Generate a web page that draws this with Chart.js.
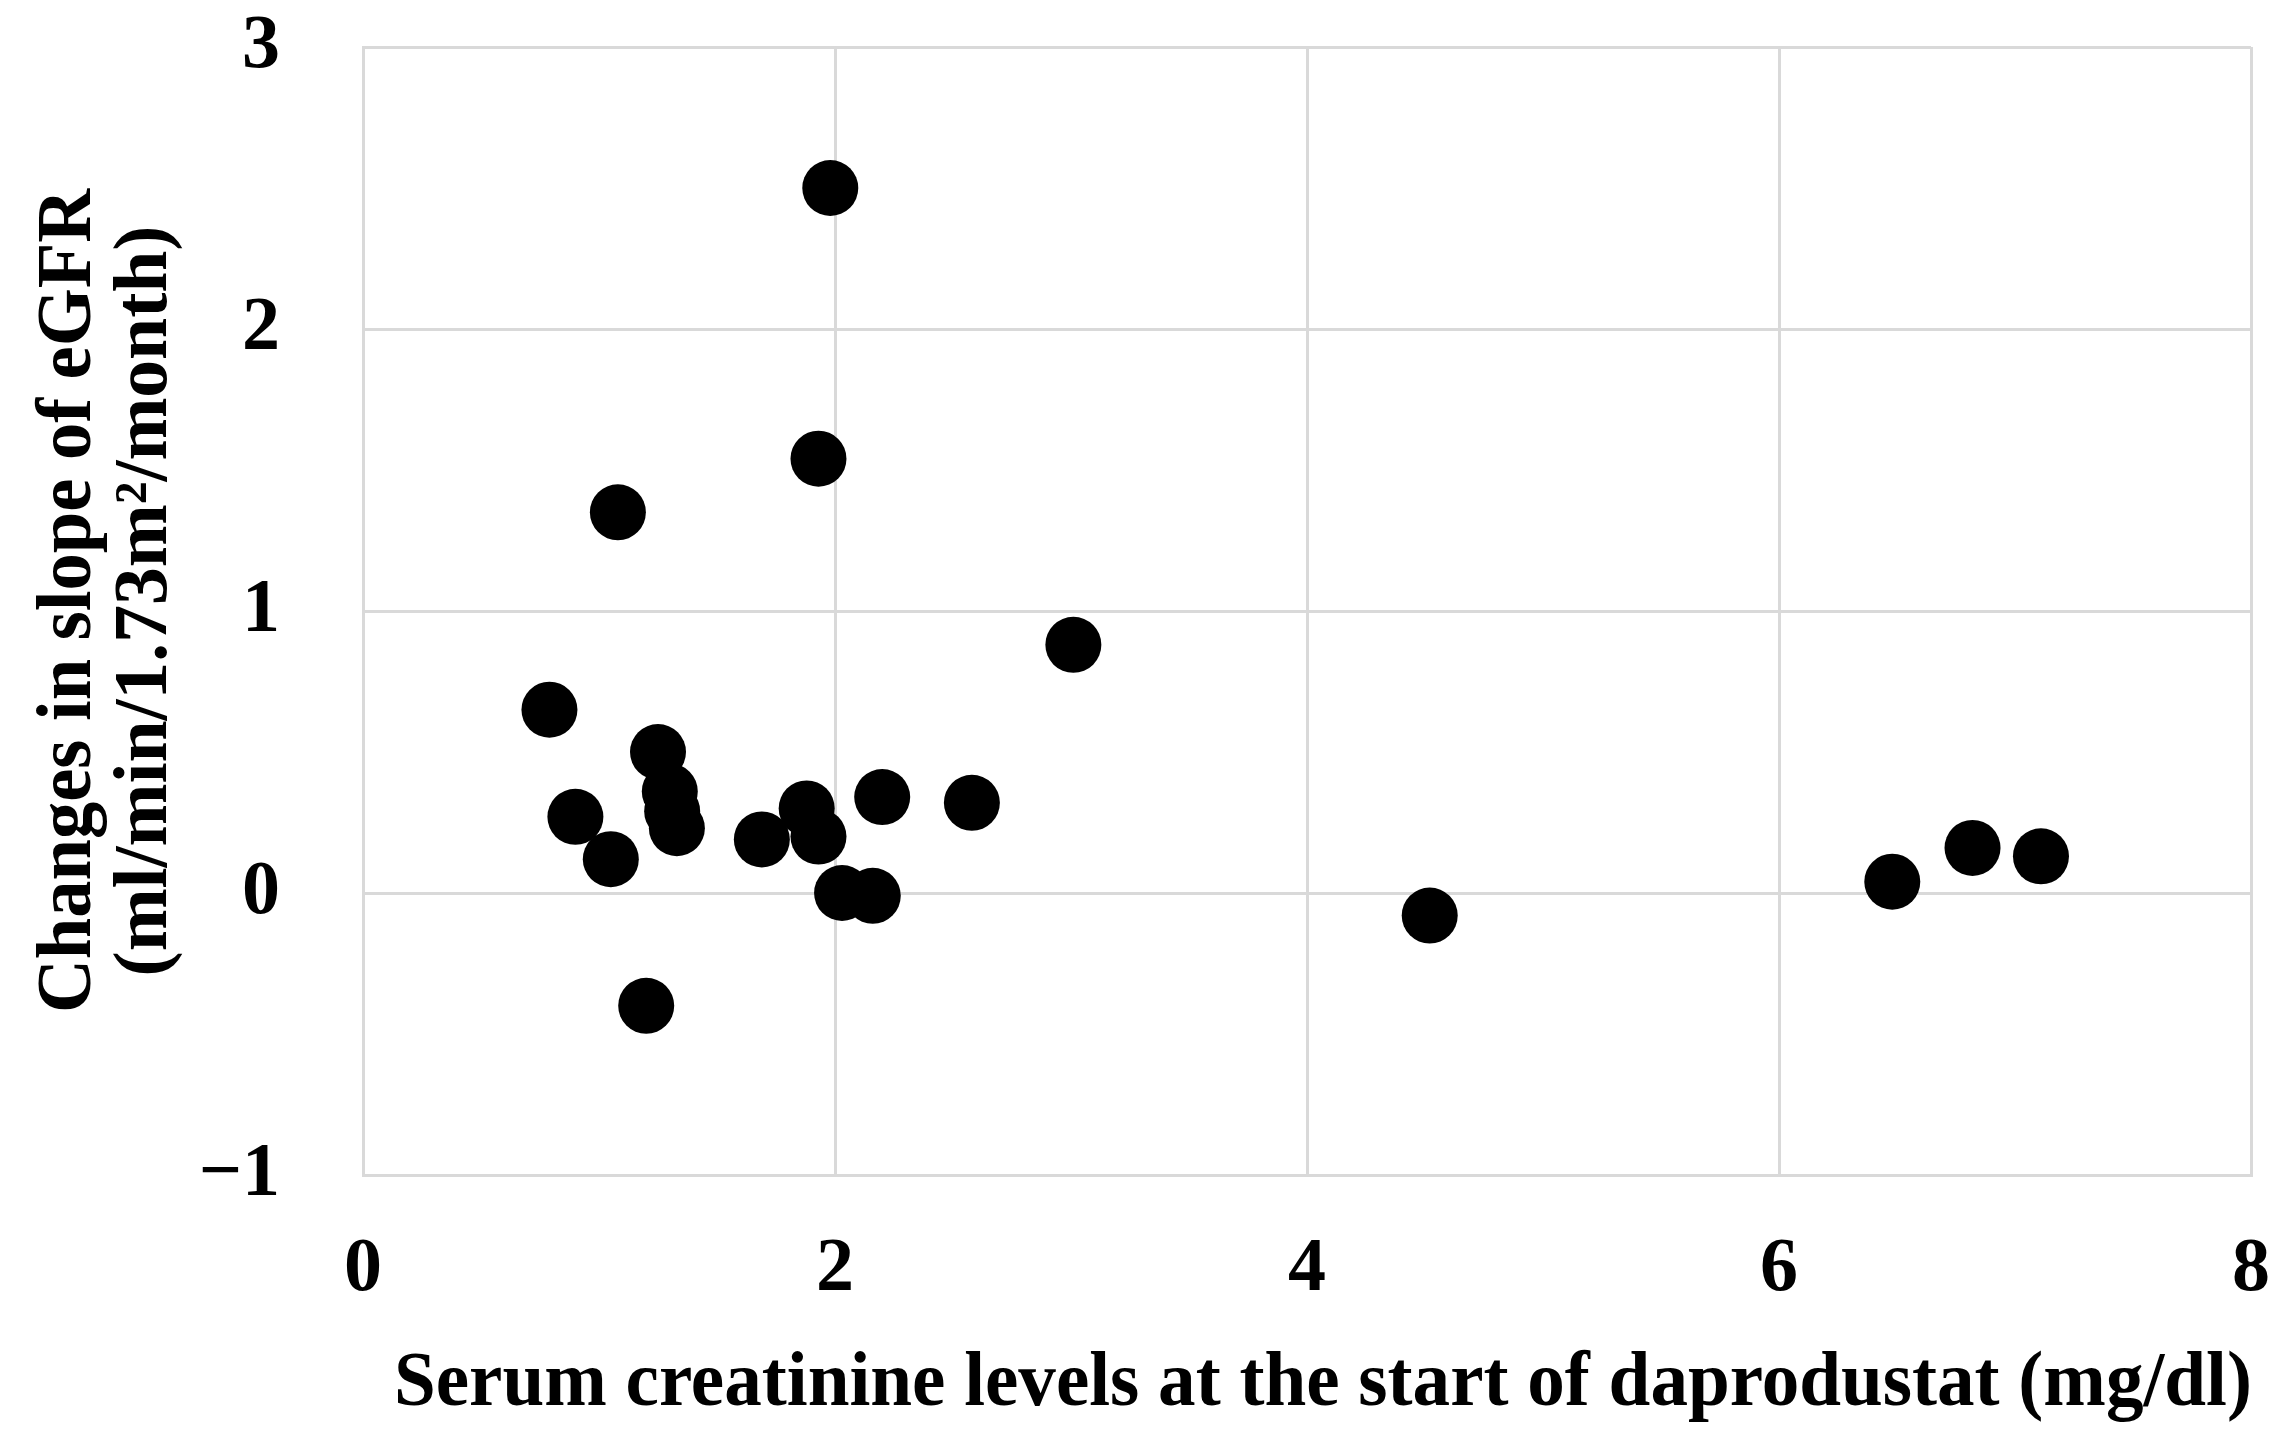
<!DOCTYPE html>
<html>
<head>
<meta charset="utf-8">
<script src="https://cdn.jsdelivr.net/npm/chart.js@4.4.1/dist/chart.umd.min.js"></script>
<style>
  html, body { margin: 0; padding: 0; background: #fff; }
  #wrap { position: relative; width: 2286px; height: 1444px; }
</style>
</head>
<body>
<div id="wrap"><canvas id="chart"></canvas></div>
<script>
// serum creatinine at start (mg/dl) vs change in eGFR slope
const creatinine = [0.79, 0.90, 1.05, 1.08, 1.20, 1.25, 1.30, 1.31, 1.33, 1.69, 1.88, 1.93, 1.93, 1.98, 2.03, 2.16, 2.20, 2.58, 3.01, 4.52, 6.48, 6.82, 7.11];
const slopeChange = [0.65, 0.27, 0.12, 1.35, -0.40, 0.50, 0.36, 0.29, 0.23, 0.19, 0.30, 0.20, 1.54, 2.50, 0.00, -0.01, 0.34, 0.32, 0.88, -0.08, 0.04, 0.16, 0.13];

const xTickLabels = ["0", "2", "4", "6", "8"];
const yTickLabels = ["\u22121", "0", "1", "2", "3"];

const xTitle = "Serum creatinine levels at the start of daprodustat (mg/dl)";
const yTitle = ["Changes in slope of eGFR", "(ml/min/1.73m\u00b2/month)"];

const points = creatinine.map((x, i) => ({x: x, y: slopeChange[i]}));

const FONT = "'Liberation Serif', 'Times New Roman', serif";
const gridColor = "#d9d9d9";

// draws condensed bold serif text (the reference type is squeezed horizontally)
function squeezed(ctx, text, cx, cy, size, targetW, rot) {
  ctx.save();
  ctx.font = "bold " + size + "px " + FONT;
  ctx.fillStyle = "#000";
  ctx.textAlign = "center";
  ctx.textBaseline = "middle";
  const w = ctx.measureText(text).width;
  ctx.translate(cx, cy);
  if (rot) ctx.rotate(rot);
  ctx.scale(targetW / w, 1);
  ctx.fillText(text, 0, 0);
  ctx.restore();
}

const titlesPlugin = {
  id: "titles",
  afterDraw(chart) {
    const ctx = chart.ctx;
    squeezed(ctx, xTitle, 1323, 1385, 78, 1858, 0);
    squeezed(ctx, yTitle[0], 70, 601, 78, 824, -Math.PI / 2);
    squeezed(ctx, yTitle[1], 146, 601, 76, 751, -Math.PI / 2);
  }
};

new Chart(document.getElementById("chart"), {
  type: "scatter",
  data: {
    datasets: [{
      data: points,
      backgroundColor: "#000",
      borderWidth: 0,
      pointBorderWidth: 0,
      pointRadius: 28,
      pointHoverRadius: 28
    }]
  },
  options: {
    responsive: true,
    maintainAspectRatio: false,
    animation: false,
    layout: { autoPadding: false, padding: { top: 47, right: 35, left: 0, bottom: 0 } },
    plugins: { legend: { display: false }, tooltip: { enabled: false } },
    scales: {
      x: {
        type: "linear",
        min: 0, max: 8,
        afterFit: s => { s.height = 269; },
        afterBuildTicks: s => { s.ticks = xTickLabels.map(v => ({value: Number(v)})); },
        ticks: {
          padding: 0,
          color: "#000",
          font: { family: FONT, size: 76, weight: "bold" },
          callback: (v, i) => xTickLabels[i]
        },
        // invisible tick marks push the labels away from the axis
        grid: { color: gridColor, lineWidth: 3, drawTicks: true, tickLength: 50, tickColor: "rgba(0,0,0,0)" },
        border: { color: gridColor, width: 3 }
      },
      y: {
        type: "linear",
        min: -1, max: 3,
        afterFit: s => { s.width = 363; },
        afterBuildTicks: s => { s.ticks = yTickLabels.map(v => ({value: Number(v.replace("\u2212", "-"))})); },
        ticks: {
          padding: 0,
          color: "#000",
          font: { family: FONT, size: 76, weight: "bold" },
          callback: (v, i) => yTickLabels[i]
        },
        grid: { color: gridColor, lineWidth: 3, drawTicks: true, tickLength: 83, tickColor: "rgba(0,0,0,0)" },
        border: { color: gridColor, width: 3 }
      }
    }
  },
  plugins: [titlesPlugin]
});
</script>
</body>
</html>
